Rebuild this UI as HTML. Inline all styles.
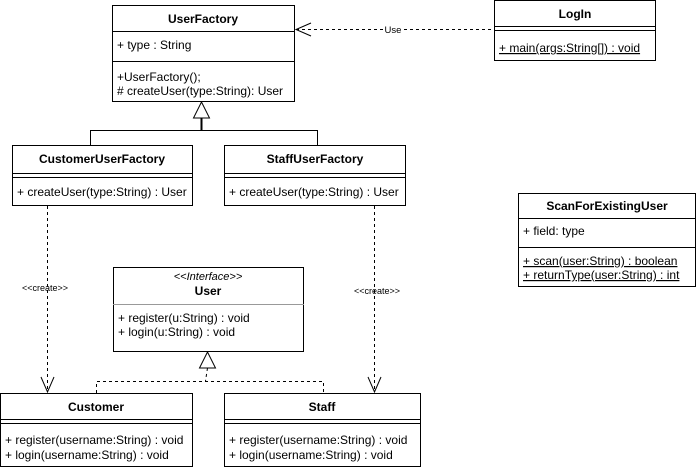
<!DOCTYPE html>
<html><head><style>
html,body{margin:0;padding:0;background:#fff;}
svg{display:block;font-family:"Liberation Sans",Arial,sans-serif;}
text{font-size:12px;fill:#000;}
.b{font-weight:bold;font-size:12px;}
</style></head><body>
<svg width="700" height="469" viewBox="0 0 700 469" xmlns="http://www.w3.org/2000/svg">
<g fill="#fff" stroke="#000" stroke-width="1">
<rect x="112.5" y="5.5" width="182" height="96"/>
<line x1="112" y1="31.5" x2="295" y2="31.5"/>
<line x1="112" y1="61.5" x2="295" y2="61.5"/>
<rect x="494.5" y="0.5" width="161" height="60"/>
<line x1="494" y1="26.5" x2="656" y2="26.5"/>
<line x1="494" y1="30.5" x2="656" y2="30.5"/>
<rect x="12.5" y="145.5" width="180" height="60"/>
<line x1="12" y1="173.5" x2="193" y2="173.5"/>
<line x1="12" y1="177.5" x2="193" y2="177.5"/>
<rect x="224.5" y="145.5" width="181" height="60"/>
<line x1="224" y1="173.5" x2="406" y2="173.5"/>
<line x1="224" y1="177.5" x2="406" y2="177.5"/>
<rect x="518.5" y="193.5" width="177" height="93"/>
<line x1="518" y1="218.5" x2="696" y2="218.5"/>
<line x1="518" y1="247.5" x2="696" y2="247.5"/>
<rect x="113.5" y="267.5" width="190" height="84"/>
<line x1="113" y1="304.5" x2="304" y2="304.5" stroke="#999"/>
<rect x="0.5" y="393.5" width="192" height="73"/>
<line x1="0" y1="419.5" x2="193" y2="419.5"/>
<line x1="0" y1="423.5" x2="193" y2="423.5"/>
<rect x="224.5" y="393.5" width="196" height="73"/>
<line x1="224" y1="419.5" x2="421" y2="419.5"/>
<line x1="224" y1="423.5" x2="421" y2="423.5"/>
</g>
<g fill="none" stroke="#000">
<polyline points="90.5,145 90.5,130.5 317.5,130.5 317.5,145"/>
<line x1="201.5" y1="118" x2="201.5" y2="130" stroke-width="2"/>
<polygon points="201.5,102 193.5,118 209.5,118" fill="#fff"/>
<polyline points="96.5,393 96.5,381.5 323.5,381.5 323.5,393" stroke-dasharray="3,3"/>
<line x1="207.5" y1="368" x2="205.5" y2="381" stroke-dasharray="3,3"/>
<polygon points="207.5,352 199.5,368 215.5,368" fill="#fff"/>
<line x1="47.5" y1="206" x2="47.5" y2="392" stroke-dasharray="3,3"/>
<polyline points="41,377 47.5,392 54,377"/>
<line x1="374.5" y1="206" x2="374.5" y2="392" stroke-dasharray="3,3"/>
<polyline points="368,377 374.5,392 381,377"/>
<line x1="296" y1="29.5" x2="494" y2="29.5" stroke-dasharray="3,3"/>
<polyline points="311,23 296,29.5 311,36"/>
</g>
<rect x="383" y="24" width="20" height="11" fill="#fff"/>
<text x="393" y="33" text-anchor="middle" style="font-size:9.5px">Use</text>
<text x="45" y="291" text-anchor="middle" style="font-size:9px">&lt;&lt;create&gt;&gt;</text>
<text x="377" y="294" text-anchor="middle" style="font-size:9px">&lt;&lt;create&gt;&gt;</text>

<text class="b" x="203" y="23" text-anchor="middle">UserFactory</text>
<text x="117" y="49">+ type : String</text>
<text x="117" y="81">+UserFactory();</text>
<text x="117" y="95"># createUser(type:String): User</text>

<text class="b" x="575" y="18" text-anchor="middle">LogIn</text>
<text x="499" y="52" text-decoration="underline">+ main(args:String[]) : void</text>

<text class="b" x="102" y="163" text-anchor="middle">CustomerUserFactory</text>
<text x="17" y="196">+ createUser(type:String) : User</text>
<text class="b" x="315" y="163" text-anchor="middle">StaffUserFactory</text>
<text x="229" y="196">+ createUser(type:String) : User</text>

<text class="b" x="607" y="210" text-anchor="middle">ScanForExistingUser</text>
<text x="523" y="235">+ field: type</text>
<text x="523" y="265" text-decoration="underline">+ scan(user:String) : boolean</text>
<text x="523" y="279" text-decoration="underline">+ returnType(user:String) : int</text>

<text x="208" y="280" text-anchor="middle" font-style="italic" style="font-size:11px">&lt;&lt;Interface&gt;&gt;</text>
<text class="b" x="208" y="295" text-anchor="middle">User</text>
<text x="118" y="322">+ register(u:String) : void</text>
<text x="118" y="336">+ login(u:String) : void</text>

<text class="b" x="96" y="411" text-anchor="middle">Customer</text>
<text x="5" y="444">+ register(username:String) : void</text>
<text x="5" y="459">+ login(username:String) : void</text>
<text class="b" x="322" y="411" text-anchor="middle">Staff</text>
<text x="229" y="444">+ register(username:String) : void</text>
<text x="229" y="459">+ login(username:String) : void</text>
</svg>
</body></html>
